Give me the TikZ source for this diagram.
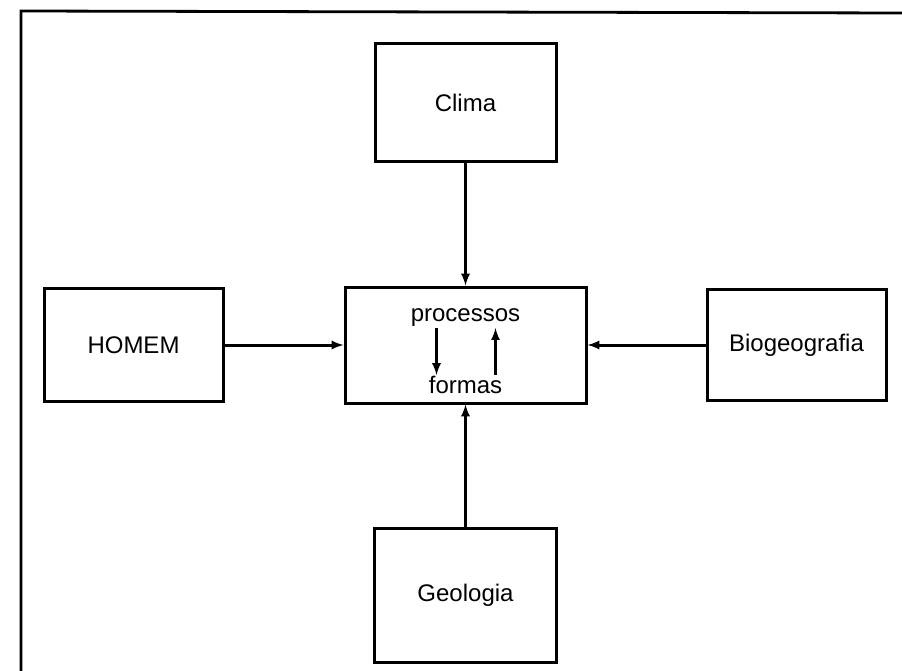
\documentclass[tikz,border=0pt]{standalone}
\usepackage{fontspec}
\setmainfont{Liberation Sans}
\usetikzlibrary{arrows,positioning}

\tikzset{
  bloco/.style={draw, line width=3pt, inner sep=0pt,
                font=\fontsize{24}{28}\selectfont},
  texto/.style={inner sep=1pt, font=\fontsize{24}{28}\selectfont}
}

\begin{document}
\begin{tikzpicture}[x=1pt, y=-1pt, >=latex, node distance=122pt]
  \useasboundingbox (0,0) rectangle (902,671);
  % moldura (aberta em baixo e a direita)
  \draw[line width=2.8pt] (21,671) -- (21,11) -- (902,13);

  \node[bloco, minimum width=241pt, minimum height=116pt] (proc) at (465.5,345) {};
  \node[bloco, minimum width=181pt, minimum height=118pt] (clima) [above=of proc] {Clima};
  \node[bloco, minimum width=182pt, minimum height=134pt] (geo)   [below=of proc] {Geologia};
  \node[bloco, minimum width=179pt, minimum height=113pt] (homem) [left=119pt of proc]  {HOMEM};
  \node[bloco, minimum width=179pt, minimum height=111pt] (bio)   [right=118pt of proc] {Biogeografia};

  \node[texto] (pr) at (465.5,318) {processos};
  \node[texto] (fo) at (465.5,385) {formas};

  \path[->, line width=3pt] (clima) edge (proc)
                            (geo)   edge (proc)
                            (homem) edge (proc)
                            (bio)   edge (proc);
  \draw[->, line width=3pt] ([xshift=-29pt]pr.south) -- ([xshift=-29pt]fo.north);
  \draw[->, line width=3pt] ([xshift=30pt]fo.north) -- ([xshift=30pt]pr.south);
\end{tikzpicture}
\end{document}
